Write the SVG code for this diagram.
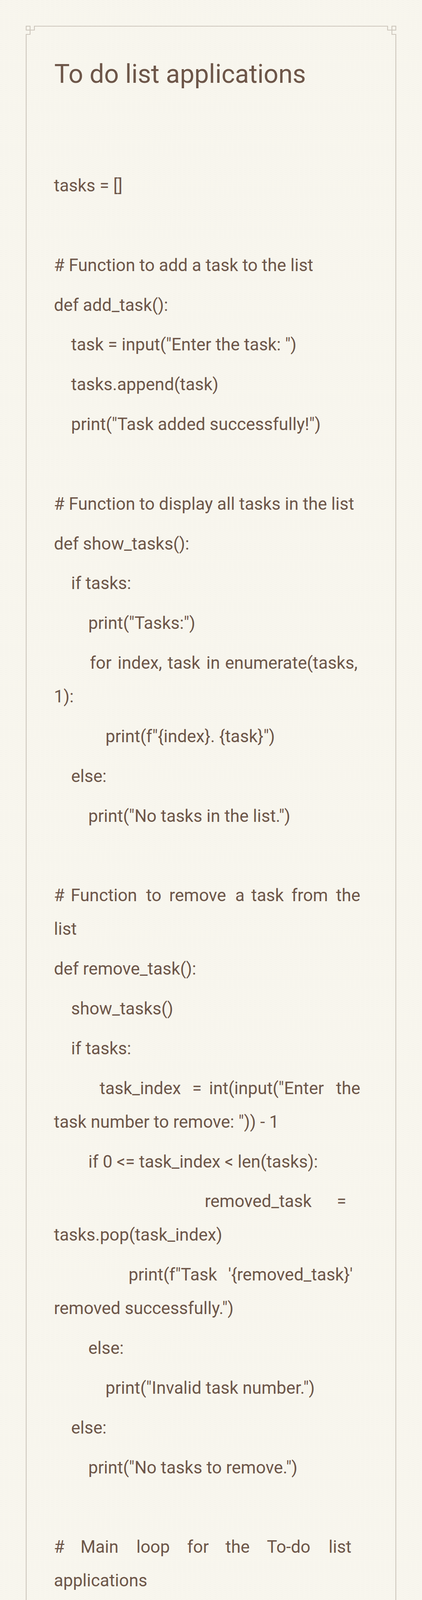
<svg xmlns="http://www.w3.org/2000/svg" width="1080" height="6799" viewBox="0 0 1080 6799">
<defs>
<pattern id="paper" width="13" height="5" patternUnits="userSpaceOnUse">
<rect width="13" height="5" fill="#f8f6ee"/>
<rect x="0" y="1" width="7" height="1" fill="#f1eee4" opacity="0.45"/>
<rect x="6" y="3" width="6" height="1" fill="#f2efe5" opacity="0.35"/>
</pattern>
<style>
.t{font-family:Roboto,"Noto Sans","Liberation Sans",sans-serif;font-size:44px;fill:#6d5649}
.h{font-family:Roboto,"Noto Sans","Liberation Sans",sans-serif;font-size:66px;fill:#6d5649}
.f{font-family:Roboto,"Noto Sans","Liberation Sans",sans-serif;font-size:38px;fill:#a39a90}
.fr{fill:none;stroke:#cdc6bc;stroke-width:2.2}
</style>
</defs>
<rect width="1080" height="6799" fill="url(#paper)"/>
<g id="frame">
<path class="fr" d="M 77 77 H 88 V 67 H 992 V 77 H 1003 V 88 H 1013 V 6609 H 1003 V 6620 H 992 V 6630 H 88 V 6620 H 77 V 6609 H 67 V 88 H 77 Z"/>
<rect class="fr" x="67" y="67" width="10" height="10"/>
<rect class="fr" x="1003" y="67" width="10" height="10"/>
<rect class="fr" x="67" y="6620" width="10" height="10"/>
<rect class="fr" x="1003" y="6620" width="10" height="10"/>
</g>
<g id="title">
<text class="h" x="139" y="212">To do list applications</text>
</g>
<g id="code">
<text class="t" x="138" y="490">tasks = []</text>
<text class="t" x="138" y="693.7"># Function to add a task to the list</text>
<text class="t" x="138" y="795.5">def add_task():</text>
<text class="t" x="182" y="897.4">task = input("Enter the task: ")</text>
<text class="t" x="182" y="999.2">tasks.append(task)</text>
<text class="t" x="182" y="1101">print("Task added successfully!")</text>
<text class="t" x="138" y="1304.7"># Function to display all tasks in the list</text>
<text class="t" x="138" y="1406.6">def show_tasks():</text>
<text class="t" x="182" y="1508.4">if tasks:</text>
<text class="t" x="226" y="1610.2">print("Tasks:")</text>
<text class="t" y="1712.1"><tspan x="230">for</tspan><tspan x="301">index,</tspan><tspan x="429">task</tspan><tspan x="528">in</tspan><tspan x="576">enumerate(tasks,</tspan></text>
<text class="t" x="138" y="1798.1">1):</text>
<text class="t" x="270" y="1899.9">print(f"{index}. {task}")</text>
<text class="t" x="182" y="2001.8">else:</text>
<text class="t" x="226" y="2103.6">print("No tasks in the list.")</text>
<text class="t" y="2307.3"><tspan x="138">#</tspan><tspan x="181">Function</tspan><tspan x="374">to</tspan><tspan x="433">remove</tspan><tspan x="602">a</tspan><tspan x="643">task</tspan><tspan x="746">from</tspan><tspan x="860">the</tspan></text>
<text class="t" x="138" y="2393.3">list</text>
<text class="t" x="138" y="2495.1">def remove_task():</text>
<text class="t" x="182" y="2597">show_tasks()</text>
<text class="t" x="182" y="2698.8">if tasks:</text>
<text class="t" y="2800.6"><tspan x="255">task_index</tspan><tspan x="492">=</tspan><tspan x="535">int(input("Enter</tspan><tspan x="860">the</tspan></text>
<text class="t" x="138" y="2886.6">task number to remove: ")) - 1</text>
<text class="t" x="226" y="2988.5">if 0 &lt;= task_index &lt; len(tasks):</text>
<text class="t" y="3090.3"><tspan x="524">removed_task</tspan><tspan x="862">=</tspan></text>
<text class="t" x="138" y="3176.3">tasks.pop(task_index)</text>
<text class="t" y="3278.2"><tspan x="329">print(f"Task</tspan><tspan x="584">'{removed_task}'</tspan></text>
<text class="t" x="138" y="3364.2">removed successfully.")</text>
<text class="t" x="226" y="3466">else:</text>
<text class="t" x="270" y="3567.8">print("Invalid task number.")</text>
<text class="t" x="182" y="3669.7">else:</text>
<text class="t" x="226" y="3771.5">print("No tasks to remove.")</text>
<text class="t" y="3975.2"><tspan x="138">#</tspan><tspan x="206">Main</tspan><tspan x="349">loop</tspan><tspan x="479">for</tspan><tspan x="577">the</tspan><tspan x="683">To-do</tspan><tspan x="841">list</tspan></text>
<text class="t" x="138" y="4061.2">applications</text>
<text class="t" x="138" y="4163">while True:</text>
<text class="t" x="182" y="4264.9">print("\nMenu:")</text>
<text class="t" x="182" y="4366.7">print("1. Add Task")</text>
<text class="t" x="182" y="4468.6">print("2. Show Tasks")</text>
<text class="t" x="182" y="4570.4">print("3. Remove Task")</text>
<text class="t" x="182" y="4672.2">print("4. Exit")</text>
<text class="t" x="182" y="4875.9">choice = input("Enter your choice: ")</text>
<text class="t" x="182" y="5079.6">if choice == '1':</text>
<text class="t" x="226" y="5181.4">add_task()</text>
<text class="t" x="182" y="5283.3">elif choice == '2':</text>
<text class="t" x="226" y="5385.1">show_tasks()</text>
<text class="t" x="182" y="5487">elif choice == '3':</text>
<text class="t" x="226" y="5588.8">remove_task()</text>
<text class="t" x="182" y="5690.6">elif choice == '4':</text>
<text class="t" y="5792.5"><tspan x="301">print("Exiting</tspan><tspan x="593">the</tspan><tspan x="686">To-Do</tspan><tspan x="837">List</tspan></text>
<text class="t" x="138" y="5878.5">application. Goodbye!")</text>
<text class="t" x="226" y="5980.3">break</text>
<text class="t" x="182" y="6082.2">else:</text>
<text class="t" y="6184"><tspan x="265">print("Invalid</tspan><tspan x="543">choice.</tspan><tspan x="710">Please</tspan><tspan x="860">try</tspan></text>
<text class="t" x="138" y="6270">again.")</text>
</g>
<g id="footer">
<text class="f" x="540" y="6723" text-anchor="middle">Created with Mi Notes</text>
</g>
</svg>
